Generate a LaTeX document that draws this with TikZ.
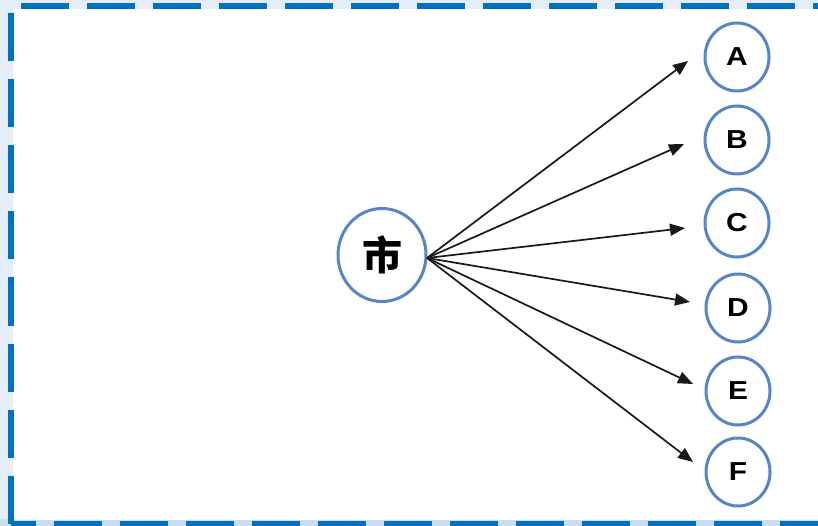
\documentclass[tikz,border=0pt]{standalone}
\usepackage{fontspec}
\setmainfont{Liberation Sans}
\newfontfamily\cjkfont{Noto Sans CJK SC}[BoldFont={* Black}]
\usetikzlibrary{arrows.meta,shapes.geometric}
\definecolor{bgblue}{HTML}{E4EEF8}
\definecolor{bgblueB}{HTML}{C9DFF1}
\definecolor{dashblue}{HTML}{0070C0}
\definecolor{ringblue}{HTML}{5686C4}
\tikzset{
  ring/.style={ellipse, draw=ringblue, line width=3pt, fill=white, inner sep=0pt},
  letter/.style={ring, minimum width=64pt, minimum height=68pt, font=\fontsize{26}{26}\bfseries},
  conn/.style={line width=1.7pt, black!90, -{Triangle[length=15pt,width=12pt]}},
  frame/.style={dashblue, line width=6pt, dash pattern=on 48pt off 18pt}
}
\newcommand{\wide}[1]{\scalebox{1.15}[1]{#1}}
\begin{document}
\begin{tikzpicture}[x=1pt,y=-1pt]
\useasboundingbox (0,0) rectangle (818,526);
\fill[bgblue] (0,0) rectangle (818,526);
\fill[bgblueB] (0,519) rectangle (818,526);
\fill[white] (13,9) rectangle (818,520);
\draw[frame] (10.5,523.5) -- (10.5,6) -- (830,6);
\draw[frame, dash phase=22.5pt] (10.5,523.5) -- (830,523.5);

\node[ring, minimum width=88pt, minimum height=93pt, font=\cjkfont\bfseries\fontsize{40}{40}\selectfont] (shi) at (382,255) {市};
\node[letter] (A) at (737,57) {\wide{A}};
\node[letter] (B) at (737,140) {\wide{B}};
\node[letter] (C) at (737,223) {\wide{C}};
\node[letter] (D) at (738,308) {\wide{D}};
\node[letter] (E) at (738,391) {\wide{E}};
\node[letter] (F) at (738,472) {\wide{F}};

\coordinate (o) at (427,258);
\coordinate (tA) at (688,61);
\coordinate (tB) at (684,144);
\coordinate (tC) at (685,228);
\coordinate (tD) at (690,302);
\coordinate (tE) at (693,384);
\coordinate (tF) at (693,462);
\foreach \t in {tA,tB,tC,tD,tE,tF}
  \draw[conn] (o) -- (\t);
\end{tikzpicture}
\end{document}
